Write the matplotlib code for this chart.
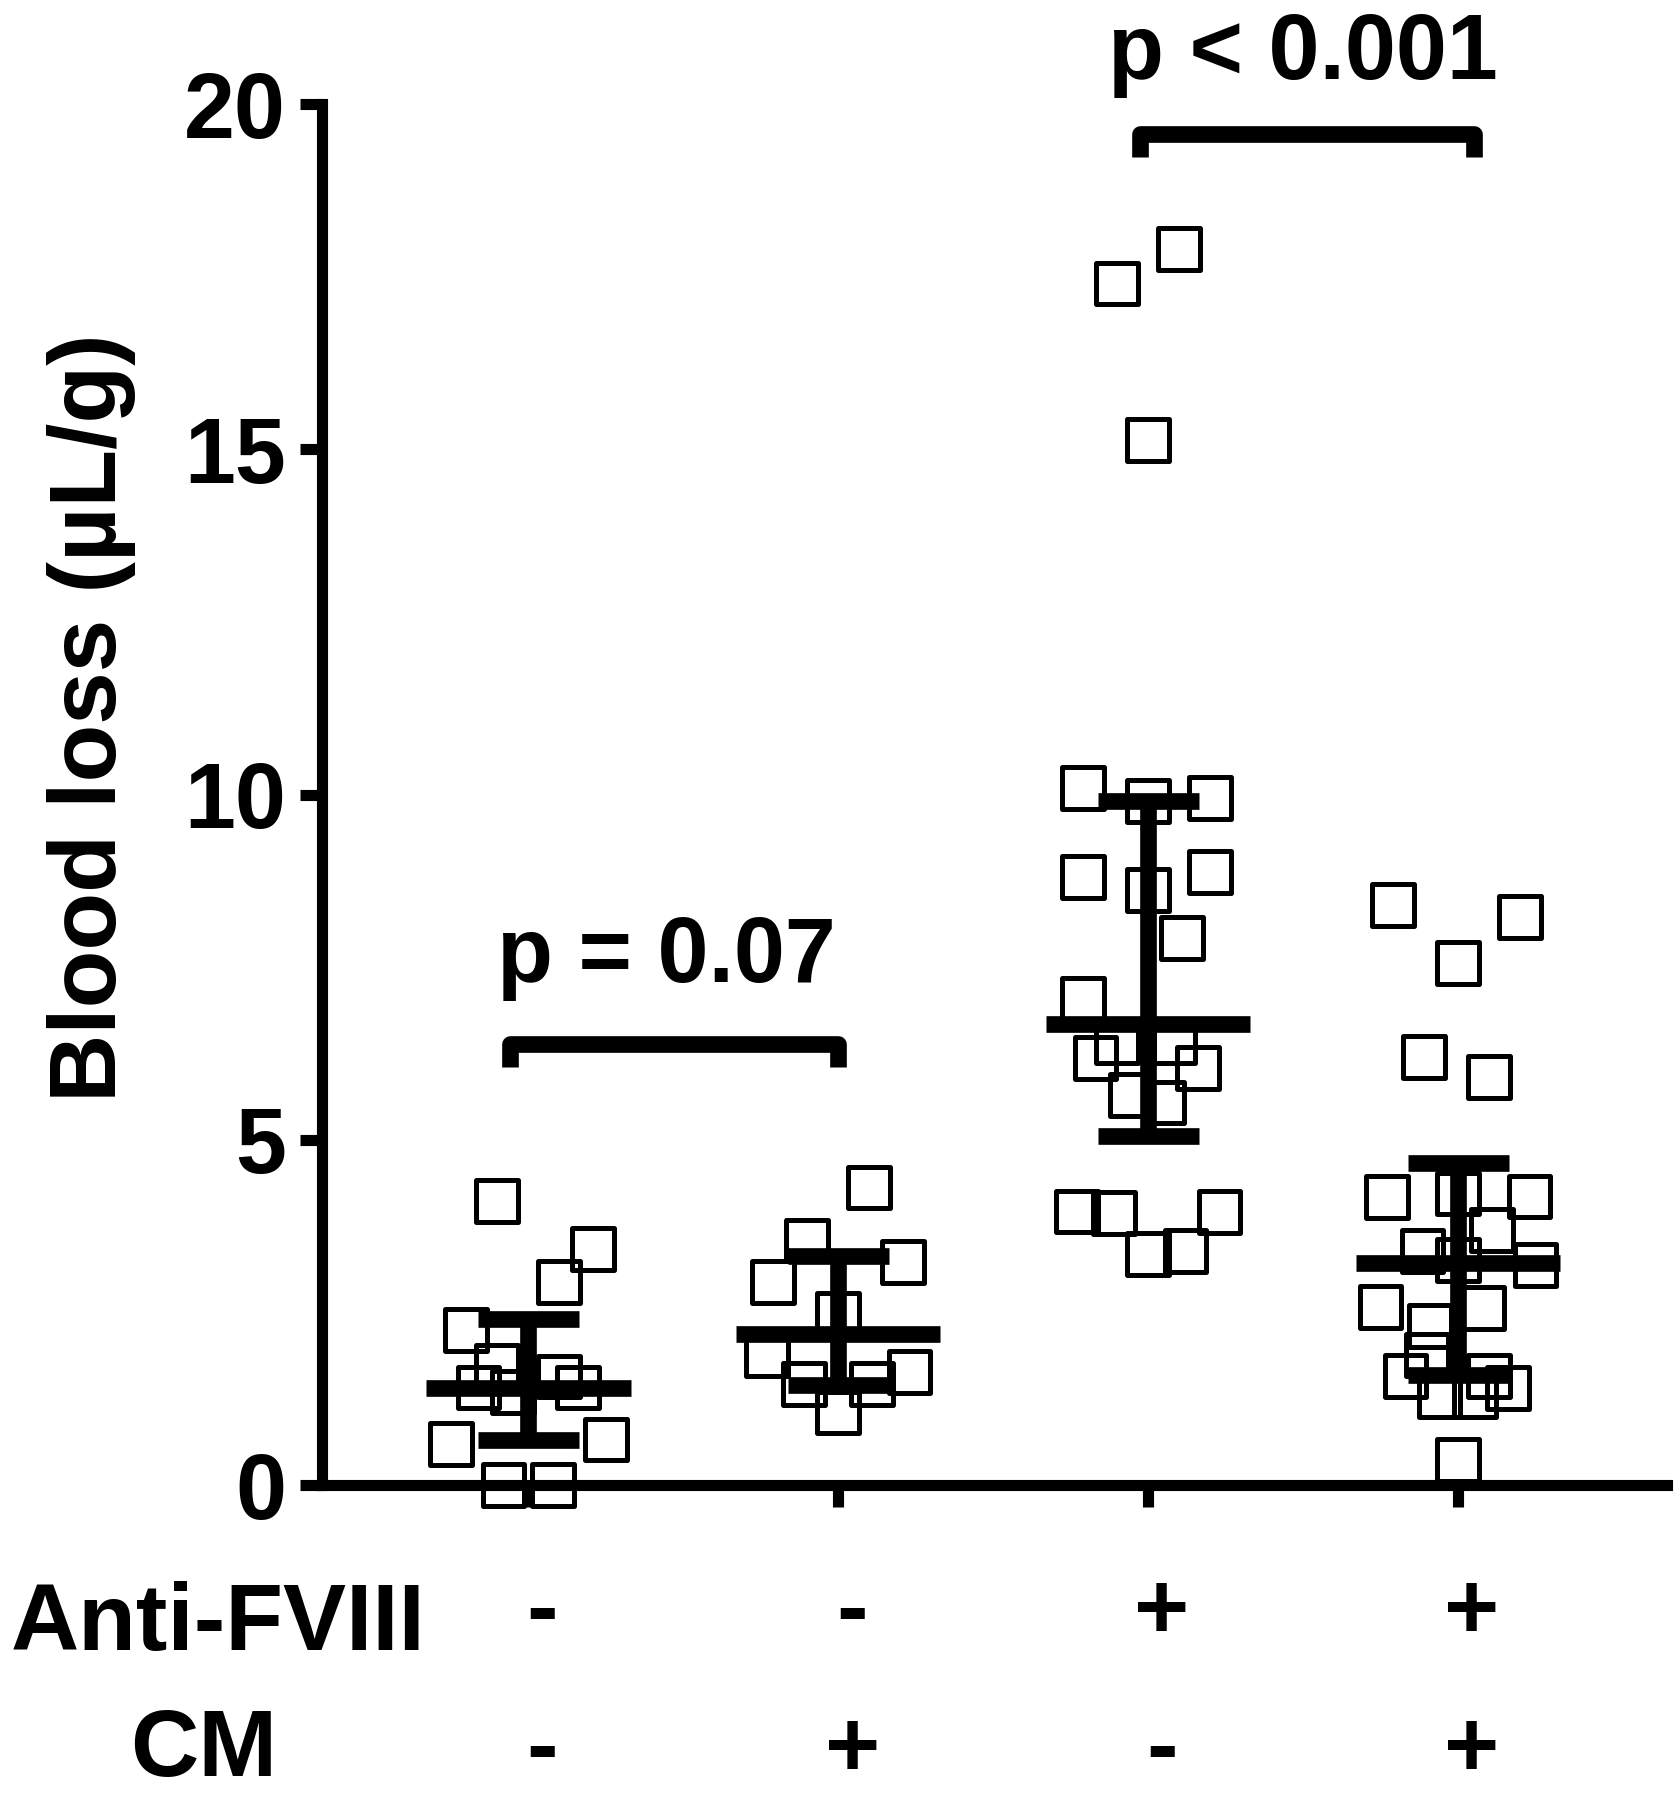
import matplotlib
matplotlib.use('Agg')
import numpy as np
import matplotlib.pyplot as plt
import matplotlib.transforms as mtrans

plt.rcParams['font.family'] = ['Liberation Sans', 'DejaVu Sans']
plt.rcParams['font.weight'] = 'bold'

# blood loss (uL/g), one list per group
g1_vals = [4.11, 3.42, 2.94, 2.24, 1.73, 1.57, 1.41, 1.41, 1.35, 0.66, 0.59, 0.0, 0.0]
g1_dx = [-0.10, 0.21, 0.10, -0.20, -0.10, 0.10, -0.16, 0.16, -0.05, 0.25, -0.25, -0.08, 0.08]

g2_vals = [4.31, 3.54, 3.23, 2.94, 2.48, 1.88, 1.64, 1.46, 1.46, 1.05]
g2_dx = [0.10, -0.10, 0.21, -0.21, 0.0, -0.23, 0.23, -0.11, 0.11, 0.0]

g3_vals = [17.40, 17.90, 15.13, 10.09, 9.91, 9.95, 8.81, 8.62, 8.88, 7.92, 7.04,
           6.18, 6.42, 5.65, 6.04, 6.42, 5.54, 3.96, 3.94, 3.35, 3.39, 3.95]
g3_dx = [-0.10, 0.10, 0.0, -0.21, 0.0, 0.20, -0.21, 0.0, 0.20, 0.11, -0.21,
         -0.17, -0.10, -0.055, 0.16, 0.085, 0.05, -0.23, -0.11, 0.0, 0.12, 0.23]

g4_vals = [8.40, 8.23, 7.56, 6.20, 5.91, 4.17, 4.22, 4.18, 3.69, 3.39, 3.26,
           3.19, 2.58, 2.56, 2.30, 1.58, 1.88, 1.28, 1.58, 1.40, 1.28, 0.36]
g4_dx = [-0.21, 0.20, 0.0, -0.11, 0.10, -0.23, 0.0, 0.23, 0.11, -0.115, 0.0,
         0.25, -0.25, 0.08, -0.09, -0.17, -0.10, -0.06, 0.10, 0.16, 0.055, 0.0]

# median and interquartile range drawn on each group
medians = [1.40, 2.18, 6.68, 3.21]
q1 = [0.65, 1.45, 5.05, 1.59]
q3 = [2.40, 3.31, 9.91, 4.66]

anti_fviii = ['-', '-', '+', '+']
cm = ['-', '+', '-', '+']

groups = [(g1_vals, g1_dx), (g2_vals, g2_dx), (g3_vals, g3_dx), (g4_vals, g4_dx)]
pos = np.arange(1, 5)

fig = plt.figure(figsize=(16.81, 18), dpi=100)
ax = fig.add_axes([0.1916, 0.175, 0.8001, 0.7672])

for p, (vals, dx) in zip(pos, groups):
  ax.scatter(p + np.array(dx), vals, s=900, marker='s', facecolors='none',
             edgecolors='black', linewidths=3.6, clip_on=False, zorder=2)

ax.vlines(pos, q1, q3, colors='black', lw=12, capstyle='butt', zorder=4)
ax.hlines(medians, pos - 0.33, pos + 0.33, colors='black', lw=12,
          capstyle='butt', zorder=4)
ax.hlines(q1, pos - 0.163, pos + 0.163, colors='black', lw=12,
          capstyle='butt', zorder=4)
ax.hlines(q3, pos - 0.163, pos + 0.163, colors='black', lw=12,
          capstyle='butt', zorder=4)

ax.set_xlim(0.335, 4.674)
ax.set_ylim(0, 20)
ax.set_xticks(pos)
ax.set_xticklabels([])
ax.set_yticks([0, 5, 10, 15, 20])
for s in ['top', 'right']:
  ax.spines[s].set_visible(False)
for s in ['left', 'bottom']:
  ax.spines[s].set_linewidth(8)
ax.tick_params(length=16, width=8, direction='out', labelsize=66, pad=10)

# significance brackets
for x0, x1, yh, ylo, label, ytxt, xt in [
    (0.94, 2.00, 6.39, 6.05, 'p = 0.07', 7.29, 1.445),
    (2.973, 4.05, 19.56, 19.23, 'p < 0.001', 20.36, 3.50)]:
  ax.plot([x0, x0, x1, x1], [ylo, yh, yh, ylo], color='black', lw=12,
          solid_joinstyle='round', solid_capstyle='butt', clip_on=False)
  ax.text(xt, ytxt, label, fontsize=66, fontweight='bold', ha='center',
          va='baseline', clip_on=False)

fig.text(0.0547, 0.6014, 'Blood loss (µL/g)', rotation=90, fontsize=68,
         fontweight='bold', ha='center', va='center')

# treatment rows under the axis
fig.text(0.0065, 1 - 1650 / 1800, 'Anti-FVIII', fontsize=68, fontweight='bold',
         ha='left', va='baseline')
fig.text(0.1214, 0.002, 'CM', fontsize=68, fontweight='bold',
         ha='center', va='bottom')
trans = mtrans.blended_transform_factory(ax.transData, fig.transFigure)
for p, a, c in zip(pos, anti_fviii, cm):
  ax.text(p + 0.045, 1 - 1638 / 1800, a, fontsize=68, fontweight='bold',
          ha='center', va='baseline', transform=trans, clip_on=False)
  ax.text(p + 0.045, 0.002, c, fontsize=68, fontweight='bold',
          ha='center', va='bottom', transform=trans, clip_on=False)

plt.savefig('out.png', dpi=100)
